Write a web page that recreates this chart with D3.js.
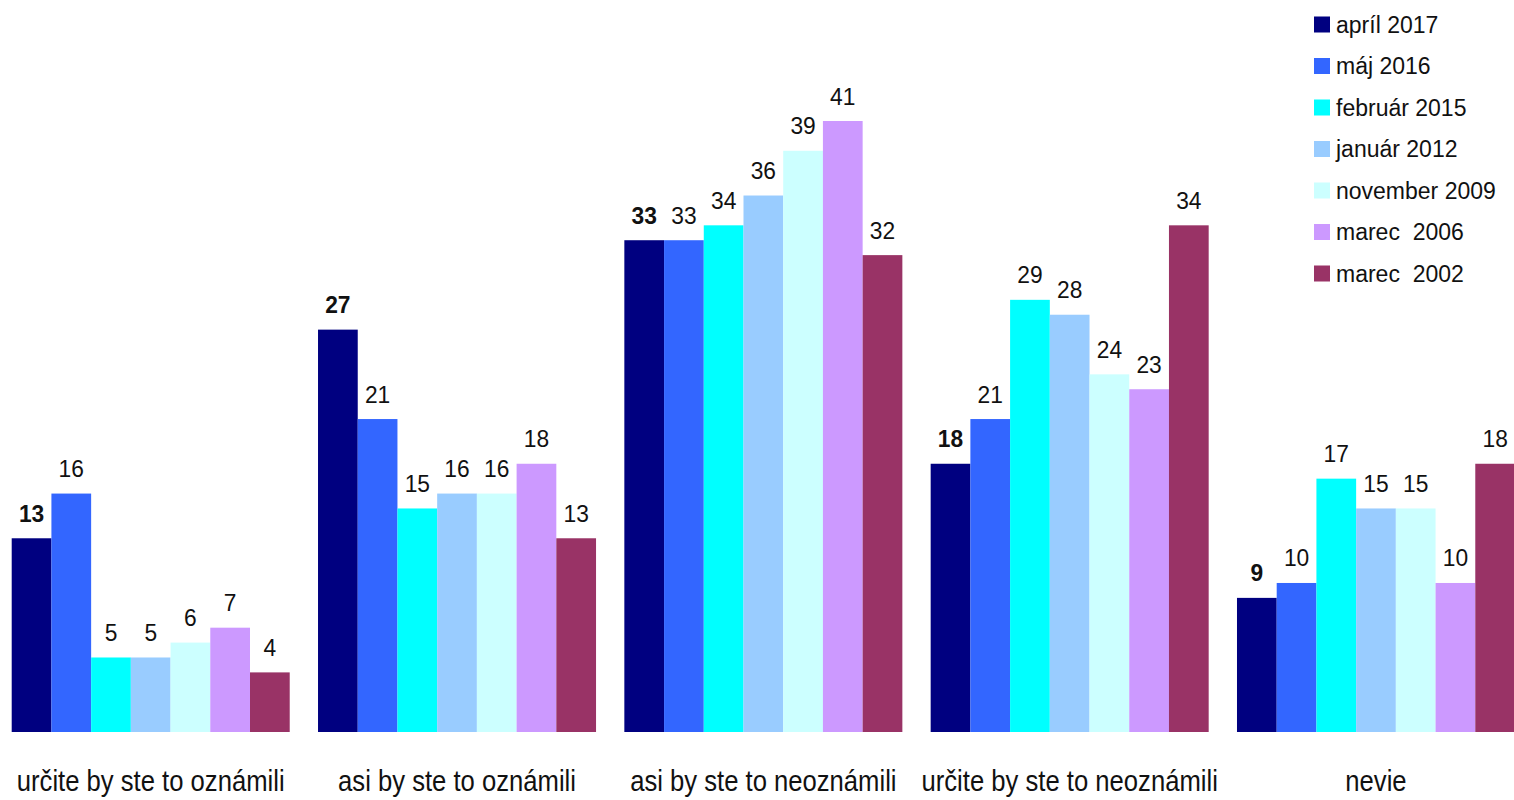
<!DOCTYPE html>
<html>
<head>
<meta charset="utf-8">
<script src="https://cdn.jsdelivr.net/npm/d3@7"></script>
<style>
  body { margin: 0; background: #fff; }
  svg { display: block; font-family: "Liberation Sans", Arial, sans-serif; }
</style>
</head>
<body>
<svg id="chart" width="1514" height="800"></svg>
<script>
const categories = ['určite by ste to oznámili', 'asi by ste to oznámili', 'asi by ste to neoznámili', 'určite by ste to neoznámili', 'nevie'];
const seriesNames = ['apríl 2017', 'máj 2016', 'február 2015', 'január 2012', 'november 2009', 'marec  2006', 'marec  2002'];
const seriesColors = ['#000080', '#3366ff', '#00ffff', '#99ccff', '#ccffff', '#cc99ff', '#993366'];

const april2017 = [13, 27, 33, 18, 9];
const maj2016 = [16, 21, 33, 21, 10];
const februar2015 = [5, 15, 34, 29, 17];
const januar2012 = [5, 16, 36, 28, 15];
const november2009 = [6, 16, 39, 24, 15];
const marec2006 = [7, 18, 41, 23, 10];
const marec2002 = [4, 13, 32, 34, 18];

const seriesValues = [april2017, maj2016, februar2015, januar2012, november2009, marec2006, marec2002];

const svg = d3.select('#chart');

const x0 = d3.scaleBand()
    .domain(categories)
    .range([11.7, 1515])
    .paddingInner(0.0924)
    .paddingOuter(0);

const x1 = d3.scaleBand()
    .domain(seriesNames)
    .range([0, x0.bandwidth()])
    .padding(0);

const y = d3.scaleLinear()
    .domain([0, 41])
    .range([732, 121]);

const rows = categories.map((cat, ci) => ({
    cat,
    items: seriesNames.map((name, si) => ({ name, si, value: seriesValues[si][ci] }))
}));

const groups = svg.append('g').attr('class', 'bars')
    .selectAll('g')
    .data(rows)
    .enter()
    .append('g')
    .attr('transform', d => `translate(${x0(d.cat)},0)`);

groups.selectAll('rect')
    .data(d => d.items)
    .enter()
    .append('rect')
    .attr('x', d => x1(d.name))
    .attr('y', d => y(d.value))
    .attr('width', x1.bandwidth())
    .attr('height', d => y(0) - y(d.value))
    .attr('fill', d => seriesColors[d.si]);

groups.selectAll('text.val')
    .data(d => d.items)
    .enter()
    .append('text')
    .attr('class', 'val')
    .attr('transform', d => `translate(${x1(d.name) + x1.bandwidth() / 2},${y(d.value) - 16.5}) scale(0.95,1)`)
    .attr('text-anchor', 'middle')
    .attr('font-size', 24)
    .attr('font-weight', d => d.si === 0 ? 'bold' : 'normal')
    .attr('fill', '#111')
    .text(d => d.value);

// category labels (slightly condensed like the original)
svg.append('g').attr('class', 'x-labels')
    .selectAll('text')
    .data(categories)
    .enter()
    .append('text')
    .attr('transform', d => `translate(${x0(d) + x0.bandwidth() / 2},791) scale(0.855,1)`)
    .attr('text-anchor', 'middle')
    .attr('font-size', 30)
    .attr('fill', '#111')
    .text(d => d);

// legend
const legend = svg.append('g').attr('class', 'legend')
    .selectAll('g')
    .data(seriesNames)
    .enter()
    .append('g')
    .attr('transform', (d, i) => `translate(1314,${24.5 + i * 41.5})`);

legend.append('rect')
    .attr('x', 0)
    .attr('y', -8)
    .attr('width', 16)
    .attr('height', 16)
    .attr('fill', (d, i) => seriesColors[i]);

legend.append('text')
    .attr('x', 22)
    .attr('y', 8)
    .attr('font-size', 23)
    .attr('fill', '#111')
    .style('white-space', 'pre')
    .text(d => d);
</script>
</body>
</html>
